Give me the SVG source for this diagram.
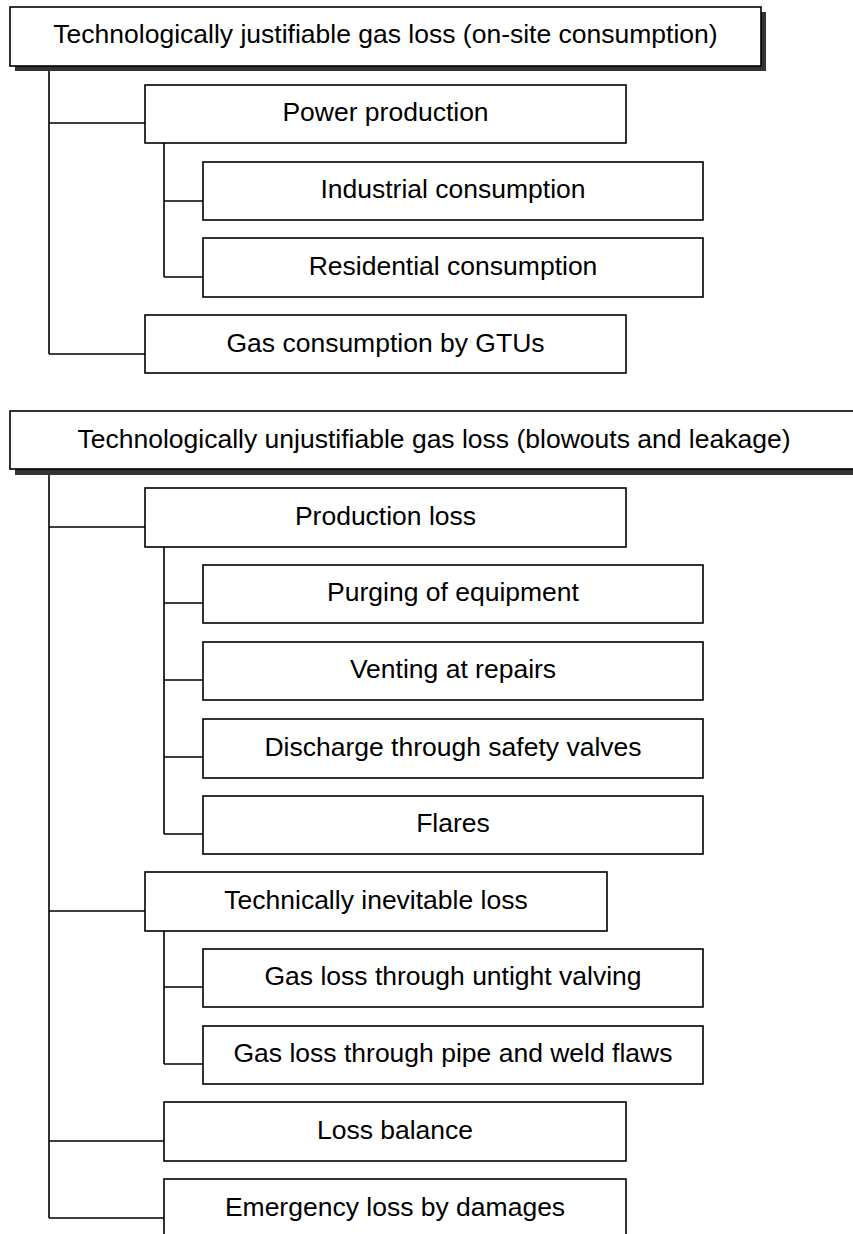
<svg xmlns="http://www.w3.org/2000/svg" width="853" height="1234" viewBox="0 0 853 1234">
<style>
.box{fill:#fff;stroke:#000;stroke-width:1.6}
.shadow{fill:#333}
.lbl{font-family:"Liberation Sans",Arial,sans-serif;font-size:26.5px;fill:#000;text-anchor:middle}
.conn{fill:none;stroke:#000;stroke-width:1.6}
</style>
<rect width="853" height="1234" fill="#fff"/>
<g id="connectors">
<path class="conn" d="M49,66 V354 M49,123 H145 M49,354 H145"/>
<path class="conn" d="M164,143 V277 M164,201 H203 M164,277 H203"/>
<path class="conn" d="M49,469 V1218 M49,527 H145 M49,911 H145 M49,1141 H164 M49,1218 H164"/>
<path class="conn" d="M164,547 V834 M164,603 H203 M164,680 H203 M164,757 H203 M164,834 H203"/>
<path class="conn" d="M164,931 V1064 M164,987 H203 M164,1064 H203"/>
</g>
<g id="n1">
<rect class="shadow" x="15" y="12" width="751" height="59"/>
<rect class="box" x="10" y="7" width="751" height="59"/>
<text class="lbl" x="385.5" y="43">Technologically justifiable gas loss (on-site consumption)</text>
</g>
<g id="n2">
<rect class="box" x="145" y="85" width="481" height="58"/>
<text class="lbl" x="385.5" y="121">Power production</text>
</g>
<g id="n3">
<rect class="box" x="203" y="162" width="500" height="58"/>
<text class="lbl" x="453" y="198">Industrial consumption</text>
</g>
<g id="n4">
<rect class="box" x="203" y="238" width="500" height="59"/>
<text class="lbl" x="453" y="275">Residential consumption</text>
</g>
<g id="n5">
<rect class="box" x="145" y="315" width="481" height="58"/>
<text class="lbl" x="385.5" y="352">Gas consumption by GTUs</text>
</g>
<g id="n6">
<rect class="shadow" x="15" y="417" width="850" height="58"/>
<rect class="box" x="10" y="411" width="848" height="58"/>
<text class="lbl" x="434" y="448">Technologically unjustifiable gas loss (blowouts and leakage)</text>
</g>
<g id="n7">
<rect class="box" x="145" y="488" width="481" height="59"/>
<text class="lbl" x="385.5" y="525">Production loss</text>
</g>
<g id="n8">
<rect class="box" x="203" y="565" width="500" height="58"/>
<text class="lbl" x="453" y="601">Purging of equipment</text>
</g>
<g id="n9">
<rect class="box" x="203" y="642" width="500" height="58"/>
<text class="lbl" x="453" y="678">Venting at repairs</text>
</g>
<g id="n10">
<rect class="box" x="203" y="719" width="500" height="59"/>
<text class="lbl" x="453" y="756">Discharge through safety valves</text>
</g>
<g id="n11">
<rect class="box" x="203" y="796" width="500" height="58"/>
<text class="lbl" x="453" y="832">Flares</text>
</g>
<g id="n12">
<rect class="box" x="145" y="872" width="462" height="59"/>
<text class="lbl" x="376" y="909">Technically inevitable loss</text>
</g>
<g id="n13">
<rect class="box" x="203" y="949" width="500" height="58"/>
<text class="lbl" x="453" y="985">Gas loss through untight valving</text>
</g>
<g id="n14">
<rect class="box" x="203" y="1026" width="500" height="58"/>
<text class="lbl" x="453" y="1062">Gas loss through pipe and weld flaws</text>
</g>
<g id="n15">
<rect class="box" x="164" y="1102" width="462" height="59"/>
<text class="lbl" x="395" y="1139">Loss balance</text>
</g>
<g id="n16">
<rect class="box" x="164" y="1179" width="462" height="62"/>
<text class="lbl" x="395" y="1216">Emergency loss by damages</text>
</g>
</svg>
